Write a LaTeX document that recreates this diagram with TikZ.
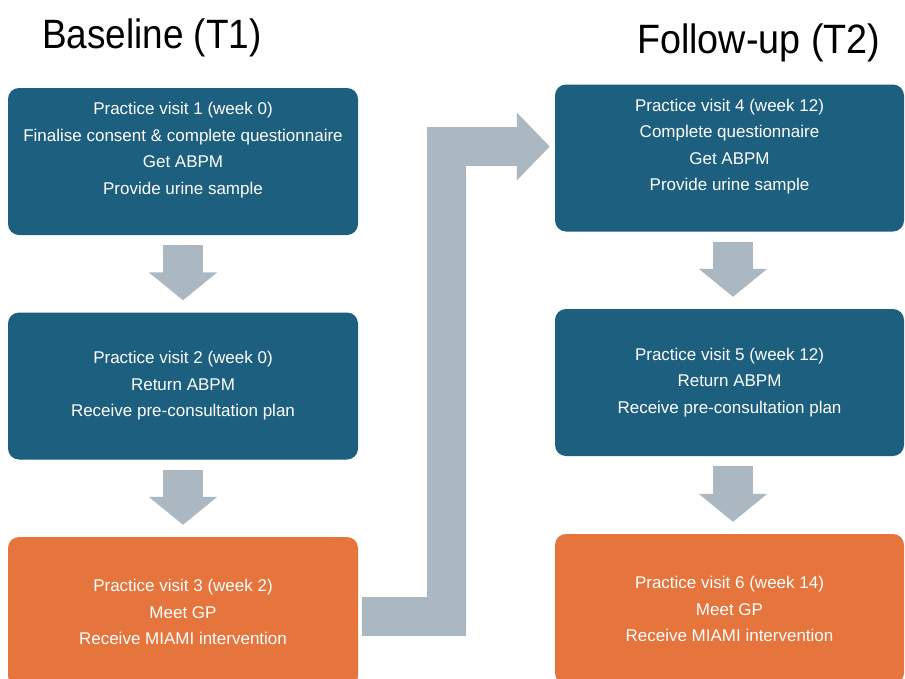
\documentclass[tikz,border=0pt]{standalone}
\usepackage{fontspec}
\setmainfont{Liberation Sans}
\usetikzlibrary{arrows.meta,calc}
\definecolor{visitblue}{HTML}{1D5F7E}
\definecolor{visitorange}{HTML}{E6743D}
\definecolor{flowgray}{HTML}{ABB7C1}

\begin{document}
\begin{tikzpicture}[x=1pt,y=-1pt,
  visit/.style={rounded corners=11pt, minimum width=350pt, minimum height=147pt,
    text=white, align=center, inner sep=0pt, font=\fontsize{17}{26.5}\selectfont},
  downflow/.style={flowgray, line width=40pt, -{Triangle[length=28pt,width=67pt]}},
  bigflow/.style={flowgray, line width=39pt, -{Triangle[length=33pt,width=66pt]}}]
\useasboundingbox[fill=white] (0,0) rectangle (905,678);
% headings:
\node[anchor=base west, inner sep=0pt, font=\fontsize{41}{41}\selectfont] (t1) at (42,48) {\scalebox{0.9}[1]{Baseline (T1)}};
\node[anchor=base west, inner sep=0pt, font=\fontsize{41}{41}\selectfont] (t2) at (637,53) {\scalebox{0.92}[1]{Follow-up (T2)}};
% baseline visits:
\node[visit, fill=visitblue] (b1) at (183,161.5) {Practice visit 1 (week 0)\\Finalise consent \& complete questionnaire\\Get ABPM\\Provide urine sample\\[0pt]~};
\node[visit, fill=visitblue] (b2) at (183,386) {Practice visit 2 (week 0)\\Return ABPM\\Receive pre-consultation plan};
\node[visit, fill=visitorange, minimum height=150pt] (b3) at (183,612) {Practice visit 3 (week 2)\\Meet GP\\Receive MIAMI intervention};
% follow-up visits:
\node[visit, fill=visitblue, minimum width=349pt] (b4) at (729.5,158) {Practice visit 4 (week 12)\\Complete questionnaire\\Get ABPM\\Provide urine sample\\[0pt]~};
\node[visit, fill=visitblue, minimum width=349pt] (b5) at (729.5,382.5) {Practice visit 5 (week 12)\\Return ABPM\\Receive pre-consultation plan};
\node[visit, fill=visitorange, minimum width=349pt, minimum height=150pt] (b6) at (729.5,609) {Practice visit 6 (week 14)\\Meet GP\\Receive MIAMI intervention};
% arrows down:
\draw[downflow] ($(b1.south)+(0,10)$) -- ($(b2.north)+(0,-12)$);
\draw[downflow] ($(b2.south)+(0,10)$) -- ($(b3.north)+(0,-12)$);
\draw[downflow] ($(b4.south)+(3.5,10)$) -- ($(b5.north)+(3.5,-12)$);
\draw[downflow] ($(b5.south)+(3.5,10)$) -- ($(b6.north)+(3.5,-12)$);
% T1 to T2:
\coordinate (s) at ($(b3.east)+(4,4.5)$);
\coordinate (e) at ($(b4.west)+(-5,-11.5)$);
\coordinate (bend) at ($(s)+(84,0)$);
\draw[bigflow] (s) -| (bend |- e) -- (e);
\end{tikzpicture}
\end{document}
